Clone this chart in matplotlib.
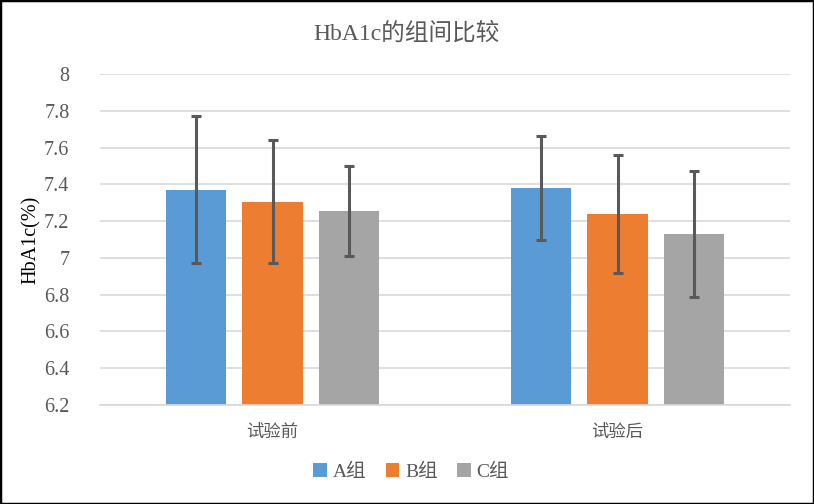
import matplotlib
matplotlib.use("Agg")
import matplotlib.pyplot as plt
import numpy as np
from matplotlib.patches import Rectangle

categories = ["试验前", "试验后"]
groups = ["A组", "B组", "C组"]
means_a = [7.37, 7.38]
means_b = [7.305, 7.24]
means_c = [7.255, 7.13]
err_a = [0.40, 0.285]
err_b = [0.335, 0.32]
err_c = [0.245, 0.34]
yticks = [6.2, 6.4, 6.6, 6.8, 7, 7.2, 7.4, 7.6, 7.8, 8]
ytick_labels = ["6.2", "6.4", "6.6", "6.8", "7", "7.2", "7.4", "7.6", "7.8", "8"]

colors = ["#5B9BD5", "#ED7D31", "#A5A5A5"]
fam = ["Liberation Serif", "Noto Sans CJK SC"]
plt.rcParams["font.family"] = fam
txt = "#595959"

fig = plt.figure(figsize=(8.14, 5.04), dpi=100)
W, H = 814, 504
ax = fig.add_axes([100 / W, 1 - 405 / H, 690 / W, 331 / H])

x = np.arange(len(categories))
bw = 0.174
gap = 0.0465
offsets = [-(bw + gap), 0, bw + gap]
series = [means_a, means_b, means_c]
errs = [err_a, err_b, err_c]
for i in range(3):
    ax.bar(x + offsets[i], series[i], bw, bottom=0, color=colors[i], label=groups[i], zorder=2)
    ax.errorbar(x + offsets[i], series[i], yerr=errs[i], fmt="none", ecolor="#595959",
                elinewidth=2.2, capsize=3.6, capthick=2.2, zorder=3)

ax.set_ylim(6.2, 8)
ax.set_xlim(-0.5, 1.5)
ax.set_yticks(yticks)
ax.set_yticklabels(ytick_labels, family=fam)
ax.set_xticks(x)
ax.set_xticklabels(categories, family=fam)
ax.yaxis.grid(True, color="#D9D9D9", linewidth=1.2, zorder=0)
ax.set_axisbelow(True)
for s in ["top", "right", "left"]:
    ax.spines[s].set_visible(False)
ax.spines["bottom"].set_color("#D9D9D9")
ax.spines["bottom"].set_linewidth(1.2)
ax.tick_params(axis="both", length=0, colors=txt, labelsize=14.5)
ax.tick_params(axis="y", pad=22)
ax.tick_params(axis="x", pad=14)
for lab in ax.get_xticklabels():
    lab.set_fontsize(12.5)
ax.set_ylabel("HbA1c(%)", fontsize=14.5, color="#000000", labelpad=6, family=fam)
ax.yaxis.set_label_coords(-0.085, 0.5)

fig.text(0.5, 1 - 33 / H, "HbA1c的组间比较", ha="center", va="center", fontsize=17,
         color=txt, family=fam)

leg = fig.legend(loc="center", bbox_to_anchor=(0.505, 1 - 472 / H), ncol=3, frameon=False,
                 prop={"family": fam, "size": 14}, handlelength=0.7, handleheight=0.7,
                 handletextpad=0.3, columnspacing=1.0)
for t in leg.get_texts():
    t.set_color(txt)

fig.patches.append(Rectangle((0, 0), 1, 1, transform=fig.transFigure, fill=False,
                             edgecolor="black", linewidth=2.5))
fig.savefig("out.png", dpi=100)
